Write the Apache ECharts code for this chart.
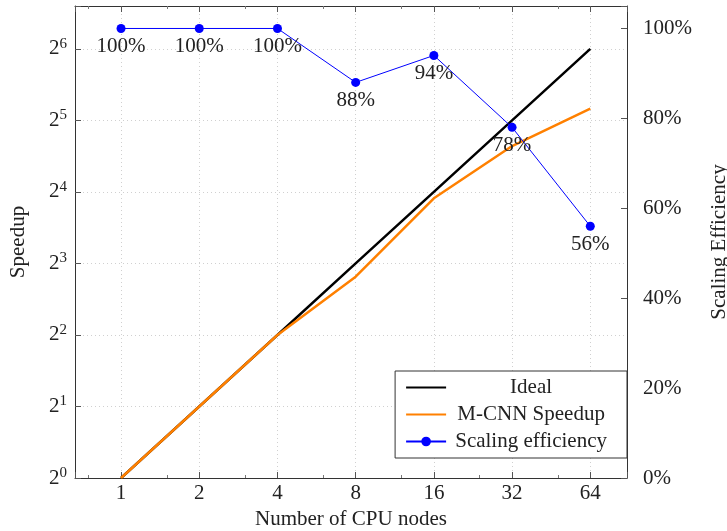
<!DOCTYPE html>
<html lang="en">
<head>
<meta charset="UTF-8">
<title>Speedup and scaling efficiency</title>
<script src="https://cdn.jsdelivr.net/npm/echarts@6/dist/echarts.min.js"></script>
<style>
    html, body { margin: 0; padding: 0; background: #fff; }
    #chart { width: 727px; height: 531px; }
</style>
</head>
<body>
<div id="chart"></div>
<script>
// data
const nodes = [1, 2, 4, 8, 16, 32, 64];
const idealSpeedup = [1, 2, 4, 8, 16, 32, 64];
const mcnnSpeedup = [1, 2, 4, 7.04, 15.04, 24.96, 35.84];
const efficiency = [100, 100, 100, 88, 94, 78, 56];

const font = "'Liberation Serif', 'Times New Roman', serif";
const ink = '#222';

const pairs = (ys) => nodes.map((n, i) => [n, ys[i]]);

// only show labels at exact powers of two
function powerOfTwo(v) {
    const e = Math.log2(v);
    return Math.abs(e - Math.round(e)) < 1e-6 ? Math.round(e) : null;
}

const gridLine = { show: true, lineStyle: { color: '#d0d0d0', type: [1, 3], width: 1 } };
const frame = { show: true, lineStyle: { color: '#333', width: 1 } };

const chart = echarts.init(document.getElementById('chart'));
chart.setOption({
    animation: false,
    textStyle: { fontFamily: font },
    grid: { left: 75, right: 100, top: 6, bottom: 53, outerBoundsMode: 'none', containLabel: false },
    legend: {
        data: [
            { name: 'Ideal', itemStyle: { opacity: 0 } },
            { name: 'M-CNN Speedup', itemStyle: { opacity: 0 } },
            { name: 'Scaling efficiency' }
        ],
        orient: 'vertical',
        right: 100,
        bottom: 73,
        backgroundColor: '#fff',
        borderColor: '#333',
        borderWidth: 1,
        borderRadius: 0,
        padding: [6, 20, 6, 10],
        itemGap: 6,
        itemWidth: 40,
        itemHeight: 12,
        formatter: '{c|{name}}',
        textStyle: {
            fontFamily: font, fontSize: 21, color: ink,
            rich: { c: { fontFamily: font, fontSize: 21, color: ink, width: 160, align: 'center' } }
        }
    },
    xAxis: [{
        type: 'log',
        logBase: 2,
        min: 0.665,
        max: 88.6,
        name: 'Number of CPU nodes',
        nameLocation: 'middle',
        nameGap: 30,
        nameTextStyle: { fontFamily: font, fontSize: 21, color: ink },
        axisLine: frame,
        axisTick: { show: true, inside: true, length: 6, lineStyle: { color: '#555' } },
        minorTick: { show: true, splitNumber: 2, length: 3, lineStyle: { color: '#777' } },
        splitLine: gridLine,
        axisLabel: {
            margin: 5,
            fontFamily: font, fontSize: 21, color: ink,
            formatter: (v) => powerOfTwo(v) === null ? '' : String(2 ** powerOfTwo(v))
        }
    }, {
        type: 'log',
        logBase: 2,
        min: 0.665,
        max: 88.6,
        position: 'top',
        axisLine: frame,
        axisTick: { show: true, inside: true, length: 6, lineStyle: { color: '#555' } },
        minorTick: { show: true, splitNumber: 2, length: 3, lineStyle: { color: '#777' } },
        splitLine: { show: false },
        axisLabel: { show: false }
    }],
    yAxis: [{
        type: 'log',
        logBase: 2,
        min: 1,
        max: 97,
        name: 'Speedup',
        nameLocation: 'middle',
        nameGap: 46,
        nameTextStyle: { fontFamily: font, fontSize: 21, color: ink },
        axisLine: frame,
        axisTick: { show: true, inside: true, length: 6, lineStyle: { color: '#555' } },
        splitLine: gridLine,
        axisLabel: {
            margin: 8,
            color: ink,
            formatter: (v) => {
                const e = powerOfTwo(v);
                return e === null ? '' : '{b|2}{s|' + e + '}';
            },
            rich: {
                b: { fontFamily: font, fontSize: 21, color: ink },
                s: { fontFamily: font, fontSize: 15, color: ink, padding: [0, 0, 10, 0] }
            }
        }
    }, {
        type: 'value',
        min: 0,
        max: 105,
        interval: 20,
        position: 'right',
        name: 'Scaling Efficiency',
        nameLocation: 'middle',
        nameGap: 82,
        nameTextStyle: { fontFamily: font, fontSize: 21, color: ink },
        axisLine: frame,
        axisTick: { show: true, inside: true, length: 6, lineStyle: { color: '#555' } },
        splitLine: { show: false },
        axisLabel: {
            margin: 16,
            fontFamily: font, fontSize: 21, color: ink,
            formatter: (v) => v > 100 ? '' : v + '%'
        }
    }],
    series: [{
        name: 'Ideal',
        type: 'line',
        xAxisIndex: 0,
        yAxisIndex: 0,
        symbol: 'none',
        data: pairs(idealSpeedup),
        lineStyle: { color: '#000', width: 2.5 },
        itemStyle: { color: '#000' }
    }, {
        name: 'M-CNN Speedup',
        type: 'line',
        xAxisIndex: 0,
        yAxisIndex: 0,
        symbol: 'none',
        data: pairs(mcnnSpeedup),
        lineStyle: { color: '#ff8000', width: 2.5 },
        itemStyle: { color: '#ff8000' }
    }, {
        name: 'Scaling efficiency',
        type: 'line',
        xAxisIndex: 0,
        yAxisIndex: 1,
        symbol: 'circle',
        symbolSize: 9,
        data: pairs(efficiency),
        lineStyle: { color: '#0000ff', width: 1 },
        itemStyle: { color: '#0000ff' },
        label: {
            show: true,
            position: 'bottom',
            distance: 3,
            fontFamily: font,
            fontSize: 21,
            color: ink,
            formatter: (p) => p.value[1] + '%'
        }
    }]
});
</script>
</body>
</html>
